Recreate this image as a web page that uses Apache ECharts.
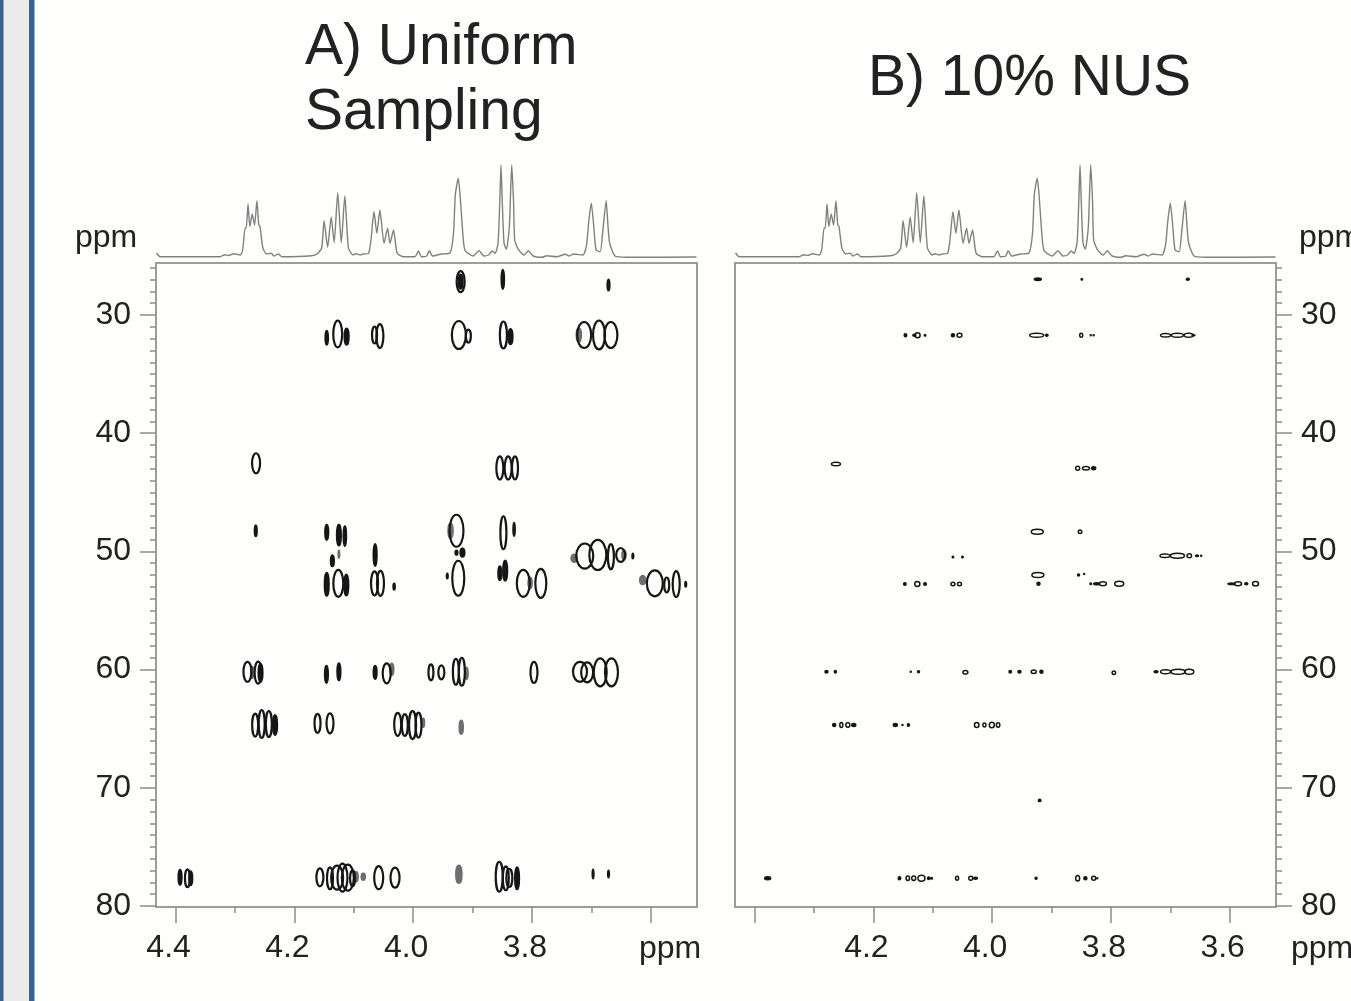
<!DOCTYPE html>
<html><head><meta charset="utf-8">
<style>html,body{margin:0;padding:0;background:#fefefd;overflow:hidden}#c{width:1351px;height:1001px}</style>
<script src="https://cdn.jsdelivr.net/npm/echarts@6/dist/echarts.min.js"></script></head>
<body><div id="c"></div>
<script>
// 1H projection: [1H ppm, intensity]
const projection = [[4.432,7],[4.426,3.3],[4.325,3.3],[4.317,5.3],[4.310,4.5],[4.303,6.3],[4.291,5],[4.287,10],[4.283,32],[4.281,32],[4.278,56],[4.275,33.3],[4.271,46],[4.267,35],[4.263,59.3],[4.260,35],[4.258,34],[4.253,12],[4.247,6],[4.239,6.7],[4.234,4],[4.227,6],[4.221,3.3],[4.171,4.3],[4.162,6],[4.154,12],[4.150,39.3],[4.144,12.7],[4.138,43],[4.133,17.3],[4.127,67.3],[4.121,17.3],[4.115,64],[4.109,12],[4.101,5],[4.096,6.3],[4.089,5],[4.084,6],[4.075,6.7],[4.071,20],[4.066,48.3],[4.061,26.7],[4.056,50],[4.049,16.7],[4.043,31.7],[4.039,16.7],[4.033,30],[4.027,6.7],[4.017,3.3],[3.997,3.3],[3.991,9],[3.986,3.3],[3.977,4],[3.973,9.3],[3.967,4],[3.952,6],[3.938,7],[3.932,26.7],[3.929,65],[3.924,81.7],[3.921,65],[3.918,40],[3.913,10],[3.899,4],[3.889,9.3],[3.881,4],[3.873,5],[3.867,9],[3.862,6.7],[3.857,17],[3.854,60],[3.852,95],[3.850,60],[3.847,17],[3.843,10.7],[3.838,33.3],[3.834,95],[3.831,60],[3.829,20],[3.823,10.7],[3.813,5],[3.806,9.3],[3.798,4],[3.783,2.7],[3.775,4.3],[3.758,3.3],[3.744,5.7],[3.737,4],[3.730,6],[3.714,5],[3.708,15],[3.704,40],[3.700,56.7],[3.696,35],[3.692,10],[3.685,8.3],[3.681,26.7],[3.675,59.3],[3.672,35],[3.669,16.7],[3.660,4],[3.640,2.7],[3.523,3]];

// Contours: [1H ppm, 13C ppm, 1H extent, 13C extent]
const uniformContours = [
[4.1455,31.92,.0042,1.18],[4.127,31.61,.015,2.26],[4.112,31.83,.0067,1.35],[4.065,31.69,.0084,1.44],[4.056,31.78,.0118,2.03],
[3.920,27.18,.0135,1.78],[3.920,27.18,.0067,1.18],[3.849,26.98,.0042,1.61],[3.671,27.46,.0034,.93],
[3.923,31.69,.0236,2.37],[3.907,31.78,.0084,1.10],[3.848,31.69,.0118,2.28],[3.836,31.83,.0067,1.27],
[3.712,31.69,.0236,2.20],[3.687,31.69,.0202,2.45],[3.667,31.69,.0219,2.20],
[4.2645,42.54,.0135,1.69],[3.854,42.94,.0118,1.95],[3.840,42.94,.0118,1.95],[3.8285,42.94,.0101,1.95],
[4.265,48.25,.0034,.93],[4.1455,48.38,.0051,1.27],[4.125,48.61,.0067,1.78],[4.115,48.70,.0042,1.69],
[4.136,50.79,.0051,.93],[4.064,50.30,.0051,1.86],[4.1455,52.78,.0067,1.95],[4.126,52.70,.0168,2.28],[4.1125,52.84,.0067,1.78],
[4.065,52.70,.0118,2.03],[4.055,52.70,.0118,2.12],[4.032,52.98,.0025,.51],
[3.927,48.25,.0236,2.71],[3.927,50.11,.0034,.34],[3.917,50.11,.0067,.68],[3.924,52.27,.0202,2.96],[3.9425,52.08,.0017,.42],
[3.848,48.42,.0101,2.79],[3.830,48.13,.0025,1.10],[3.854,51.85,.0051,1.18],[3.845,51.63,.0067,1.69],
[3.8145,52.70,.0219,2.28],[3.785,52.70,.0185,2.45],
[3.711,50.39,.0286,2.12],[3.689,50.30,.0286,2.54],[3.667,50.45,.0101,2.12],[3.6505,50.30,.0152,1.18],[3.630,50.39,.0017,.42],
[3.593,52.70,.0269,2.20],[3.573,52.84,.0084,1.27],[3.557,52.76,.0118,2.20],[3.541,52.78,.0017,.42],
[4.279,60.18,.0135,1.69],[4.261,60.26,.0118,1.86],[4.257,60.26,.0067,1.52],[4.146,60.40,.0051,1.44],[4.125,60.18,.0051,1.44],
[4.064,60.23,.0051,1.10],[4.0445,60.31,.0135,1.69],[3.970,60.23,.0084,1.35],[3.9525,60.23,.0101,1.18],[3.928,60.18,.0101,2.20],[3.918,60.18,.0101,2.37],
[3.7965,60.23,.0118,1.78],[3.719,60.18,.0236,1.69],[3.707,60.23,.0202,1.69],[3.685,60.23,.0219,2.37],[3.666,60.23,.0219,2.37],
[4.266,64.69,.0101,1.95],[4.255,64.60,.0101,2.37],[4.243,64.60,.0101,2.20],[4.2325,64.69,.0067,1.69],[4.161,64.54,.0101,1.61],[4.140,64.54,.0118,1.69],
[4.026,64.63,.0118,1.95],[4.014,64.69,.0101,1.86],[4.001,64.69,.0118,2.37],[3.991,64.69,.0101,2.12],
[4.3925,77.57,.0051,1.27],[4.380,77.65,.0084,1.52],[4.3745,77.65,.0051,1.18],[4.157,77.57,.0118,1.52],[4.140,77.65,.0101,1.86],
[4.128,77.60,.0202,2.03],[4.119,77.60,.0168,2.37],[4.110,77.60,.0202,2.20],[4.102,77.65,.0084,1.35],[4.058,77.60,.0152,1.95],[4.0305,77.60,.0152,1.69],
[3.855,77.52,.0118,2.54],[3.844,77.65,.0101,2.03],[3.838,77.62,.0101,1.52],[3.825,77.65,.0067,1.86],[3.697,77.29,.0017,.76],[3.671,77.29,.0017,.59]
];
const uniformFaint = [
[3.721,31.69,.0084,1.18],[4.125,50.24,.0025,.68],[3.937,48.25,.0084,1.27],[3.803,52.65,.0067,.93],[3.729,50.58,.0101,.68],[3.645,50.30,.0067,.76],[3.6135,52.42,.0101,.76],
[4.271,60.23,.0051,1.02],[4.036,59.97,.0067,1.02],[3.910,60.31,.0051,1.02],[3.983,64.49,.0042,.76],[3.919,64.88,.0067,1.18],[4.096,77.52,.0067,.85],[4.084,77.52,.0067,.59],[3.923,77.31,.0101,1.52]
];
const nusContours = [
[3.923,26.98,.0118,.21],[3.849,26.98,.0025,.13],[3.6705,26.98,.0051,.17],
[4.146,31.72,.0042,.25],[4.131,31.72,.0051,.17],[4.1255,31.72,.0084,.42],[4.113,31.72,.0025,.13],[4.066,31.72,.0051,.25],[4.055,31.72,.0084,.34],
[3.925,31.72,.0236,.34],[3.908,31.72,.0042,.17],[3.850,31.72,.0051,.34],[3.834,31.72,.0017,.085],[3.829,31.72,.0017,.085],
[3.708,31.72,.0168,.30],[3.688,31.72,.0202,.34],[3.669,31.72,.0152,.34],[3.661,31.72,.0051,.085],
[4.263,42.60,.0152,.30],[3.856,42.97,.0067,.34],[3.842,42.97,.0118,.30],[3.829,42.97,.0067,.25],
[3.924,48.33,.0202,.42],[3.852,48.33,.0059,.30],
[4.066,50.47,.0025,.13],[4.050,50.47,.0025,.13],[3.709,50.36,.0168,.30],[3.688,50.36,.0236,.42],[3.668,50.36,.0076,.34],[3.655,50.36,.0051,.13],[3.648,50.36,.0017,.085],
[3.923,51.99,.0202,.42],[3.8545,51.99,.0034,.17],[3.845,51.91,.0017,.085],
[4.147,52.76,.0042,.21],[4.126,52.76,.0084,.42],[4.113,52.76,.0042,.21],[4.066,52.76,.0067,.30],[4.055,52.76,.0067,.30],
[3.922,52.73,.0051,.25],[3.834,52.73,.0025,.13],[3.824,52.73,.0101,.17],[3.8135,52.73,.0118,.34],[3.786,52.73,.0152,.42],
[3.597,52.73,.0118,.13],[3.586,52.73,.0118,.34],[3.572,52.73,.0051,.17],[3.5565,52.73,.0101,.38],
[4.279,60.18,.0051,.21],[4.264,60.18,.0034,.21],[4.137,60.18,.0017,.085],[4.124,60.18,.0034,.17],[4.045,60.23,.0084,.30],
[3.9695,60.18,.0042,.21],[3.954,60.18,.0051,.21],[3.930,60.18,.0084,.30],[3.917,60.18,.0051,.25],[3.795,60.26,.0059,.30],
[3.724,60.18,.0067,.17],[3.708,60.18,.0168,.34],[3.687,60.18,.0236,.42],[3.668,60.18,.0152,.42],
[4.266,64.69,.0051,.25],[4.254,64.69,.0051,.42],[4.243,64.69,.0067,.38],[4.233,64.69,.0067,.25],[4.163,64.69,.0067,.25],[4.151,64.69,.0017,.085],[4.141,64.69,.0034,.21],
[4.026,64.69,.0076,.42],[4.013,64.69,.0051,.34],[4.0005,64.69,.0084,.47],[3.990,64.69,.0059,.38],[3.920,71.06,.0042,.21],
[4.378,77.65,.0101,.25],[4.156,77.65,.0042,.25],[4.142,77.65,.0059,.38],[4.132,77.65,.0067,.38],[4.119,77.65,.0118,.51],[4.107,77.65,.0034,.21],[4.102,77.65,.0034,.13],
[4.059,77.65,.0051,.34],[4.036,77.65,.0067,.34],[4.028,77.65,.0067,.17],[3.926,77.65,.0034,.17],[3.856,77.65,.0067,.47],[3.843,77.65,.0051,.25],[3.829,77.65,.0067,.34],[3.823,77.65,.0017,.085]
];

const carbonMajor = [30,40,50,60,70,80];
const carbonMinor = [26,27,28,29,31,32,33,34,35,36,37,38,39,41,42,43,44,45,46,47,48,49,51,52,53,54,55,56,57,58,59,61,62,63,64,65,66,67,68,69,71,72,73,74,75,76,77,78,79];
const protonMajor = [4.4,4.2,4.0,3.8,3.6];
const protonMinor = [4.3,4.1,3.9,3.7];
const protonLabelsA = [4.4,4.2,4.0,3.8];
const protonLabelsB = [4.2,4.0,3.8,3.6];
const titleA = 'A) Uniform\nSampling';
const titleB = 'B) 10% NUS';
const unit = 'ppm';

const INK = '#222222', TICK = '#8c8c8c', FRAME = '#9c9c9c', BLUE = '#38618f';
const H_MIN = 3.522, H_MAX = 4.433, C_MIN = 25.6, C_MAX = 80.08;
const LABEL_FONT = {fontFamily:'"Liberation Sans", Arial, sans-serif', fontSize:32, color:INK};

const grids = [
  {left:156, top:263, width:541, height:644, show:true, borderColor:FRAME, borderWidth:2, backgroundColor:'transparent'},
  {left:735, top:263, width:541, height:644, show:true, borderColor:FRAME, borderWidth:2, backgroundColor:'transparent'},
  {left:156, top:160, width:541, height:100},
  {left:735, top:160, width:541, height:100}
];
function xAxisFor(gridIndex, ticks, len, labels){
  return {type:'value', gridIndex, position:'bottom', inverse:true, min:H_MIN, max:H_MAX,
    splitLine:{show:false}, axisLine:{show:false},
    axisTick:{show:true, length:len, customValues:ticks, lineStyle:{color:TICK, width:1.5}},
    axisLabel: labels ? Object.assign({show:true, customValues:labels, margin:25, padding:[0,14,0,0],
      formatter:v=>Number(v).toFixed(1)}, LABEL_FONT) : {show:false}};
}
function yAxisFor(gridIndex, pos, ticks, len, labels){
  return {type:'value', gridIndex, position:pos, inverse:true, min:C_MIN, max:C_MAX,
    splitLine:{show:false}, axisLine:{show:false},
    axisTick:{show:true, length:len, customValues:ticks, lineStyle:{color:TICK, width:1.5}},
    axisLabel: labels ? Object.assign({show:true, customValues:labels, margin:25, padding:[8,0,0,0]}, LABEL_FONT) : {show:false}};
}
function specX(gridIndex){return {type:'value', gridIndex, inverse:true, min:H_MIN, max:H_MAX, show:false};}
function specY(gridIndex){return {type:'value', gridIndex, min:0, max:100, show:false};}

function contourSeries(data, xAxisIndex, yAxisIndex, color, width, solidBelow){
  return {type:'custom', xAxisIndex, yAxisIndex, data, clip:true, silent:true,
    encode:{x:0,y:1},
    renderItem(params, api){
      const p = api.coord([api.value(0), api.value(1)]);
      const s = api.size([api.value(2), api.value(3)]);
      return {type:'ellipse', shape:{cx:p[0], cy:p[1], rx:s[0]/2, ry:s[1]/2},
        style:{fill:Math.min(s[0],s[1])<solidBelow ? color : 'none', stroke:color, lineWidth:width}};
    }};
}
function projSeries(xAxisIndex, yAxisIndex){
  return {type:'line', xAxisIndex, yAxisIndex, data:projection, showSymbol:false, smooth:0.2, silent:true,
    lineStyle:{color:'#808080', width:1.4}};
}

const chart = echarts.init(document.getElementById('c'), null, {renderer:'canvas'});
const ppmText = (x,y) => ({type:'text', x, y, style:{text:unit, textVerticalAlign:'middle', fill:INK, font:'32px "Liberation Sans", Arial, sans-serif'}});
chart.setOption({
  animation:false, backgroundColor:'#fefefd',
  title:[
    {text:titleA, left:305, top:16, padding:0, textStyle:{fontFamily:'"Liberation Sans", Arial, sans-serif', fontWeight:'normal', fontSize:57, lineHeight:65, color:INK}},
    {text:titleB, left:868, top:47, padding:0, textStyle:{fontFamily:'"Liberation Sans", Arial, sans-serif', fontWeight:'normal', fontSize:57, lineHeight:65, color:INK}}
  ],
  grid:grids,
  xAxis:[
    xAxisFor(0,protonMajor,16,protonLabelsA), xAxisFor(0,protonMinor,6,null),
    xAxisFor(1,protonMajor,16,protonLabelsB), xAxisFor(1,protonMinor,6,null),
    specX(2), specX(3)
  ],
  yAxis:[
    yAxisFor(0,'left',carbonMajor,16,carbonMajor), yAxisFor(0,'left',carbonMinor,6,null),
    yAxisFor(1,'right',carbonMajor,16,carbonMajor), yAxisFor(1,'right',carbonMinor,6,null),
    specY(2), specY(3)
  ],
  series:[
    contourSeries(uniformFaint,0,0,'#6e6e6e',1.6,7),
    contourSeries(uniformContours,0,0,'#161616',2.2,4.5),
    contourSeries(nusContours,2,2,'#161616',1.5,3),
    projSeries(4,4), projSeries(5,5)
  ],
  graphic:[
    {type:'rect', shape:{x:0,y:0,width:34.5,height:1001}, style:{fill:BLUE}, z:-1},
    {type:'rect', shape:{x:3.5,y:0,width:25.5,height:1001}, style:{fill:'#ececec'}, z:-1},
    ppmText(75,238), ppmText(1299,238), ppmText(639,949), ppmText(1291,949)
  ]
});
</script></body></html>
